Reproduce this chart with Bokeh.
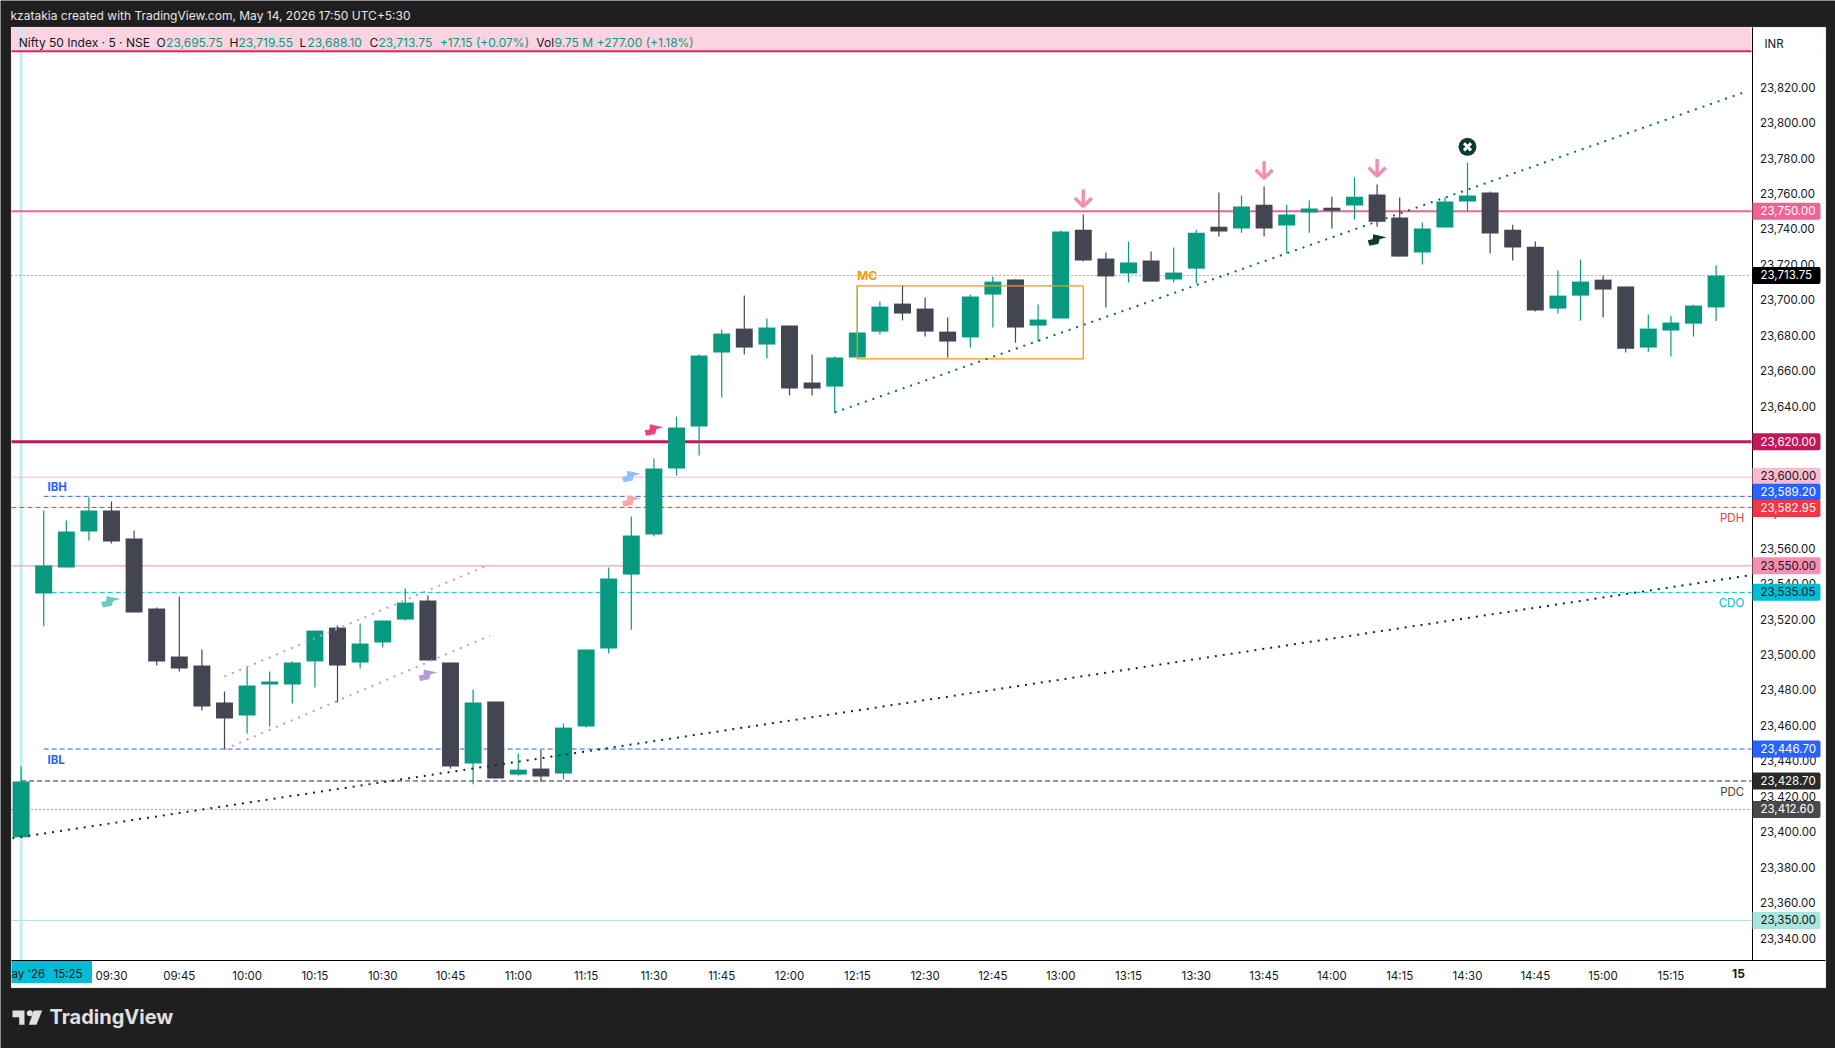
from bokeh.plotting import figure
from bokeh.models import (ColumnDataSource, BoxAnnotation, Label, FixedTicker, NumeralTickFormatter,
                          PolyAnnotation)
from bokeh.embed import file_html
from bokeh.resources import INLINE

# ---------- data ----------
open_ = [23397.0,23534.4,23549.1,23569.4,23581.2,23565.4,23525.9,23498.9,23493.8,23472.9,
         23465.6,23483.1,23483.1,23496.1,23515.2,23495.5,23506.8,23519.7,23530.4,23495.5,
         23438.5,23473.5,23432.3,23435.7,23432.9,23459.4,23503.4,23545.1,23567.7,23604.9,
         23628.6,23670.3,23683.8,23674.8,23685.5,23653.4,23651.1,23667.5,23682.1,23697.9,
         23695.1,23682.1,23678.8,23703.0,23711.5,23685.5,23689.5,23739.5,23723.3,23714.9,
         23722.2,23711.5,23717.6,23741.3,23740.2,23753.7,23741.9,23749.2,23752.0,23753.2,
         23759.4,23746.4,23726.7,23740.8,23755.4,23760.5,23739.6,23730.0,23695.1,23702.4,
         23711.4,23707.5,23673.1,23682.7,23686.6,23695.75]
high = [23436.8,23581.2,23575.6,23588.7,23586.3,23569.9,23526.5,23532.7,23502.8,23479.1,
        23493.2,23490.4,23496.1,23513.5,23516.4,23517.5,23519.2,23537.2,23533.3,23495.5,
        23480.3,23473.5,23444.2,23446.2,23461.1,23502.8,23549.1,23577.8,23610.5,23634.2,
        23669.2,23683.3,23702.4,23689.5,23685.5,23669.2,23668.0,23708.1,23699.1,23708.1,
        23701.3,23690.0,23703.0,23713.2,23711.5,23697.4,23739.1,23748.1,23726.7,23732.9,
        23727.3,23729.5,23739.6,23760.5,23758.8,23763.9,23753.7,23756.0,23758.2,23769.0,
        23765.0,23757.7,23743.6,23757.7,23777.4,23761.1,23742.4,23732.9,23716.5,23722.7,
        23713.7,23707.5,23691.7,23691.1,23697.3,23719.55]
low = [23396.4,23516.0,23549.1,23564.3,23562.6,23523.7,23493.8,23490.4,23468.4,23446.2,
       23455.4,23459.4,23472.4,23481.4,23472.9,23492.1,23503.9,23519.2,23496.6,23435.7,
       23426.9,23430.1,23431.8,23428.2,23429.5,23458.8,23500.6,23514.0,23566.5,23600.9,
       23612.2,23644.9,23669.2,23666.9,23646.1,23646.1,23636.5,23667.5,23680.5,23688.4,
       23679.3,23667.5,23673.1,23684.4,23675.9,23676.5,23689.5,23721.6,23695.7,23709.8,
       23710.3,23709.8,23709.2,23735.7,23737.9,23735.7,23726.1,23737.9,23740.2,23745.3,
       23741.3,23724.4,23719.9,23740.8,23750.3,23726.1,23722.2,23693.4,23692.3,23688.3,
       23690.0,23670.3,23670.8,23668.0,23679.3,23688.10]
close = [23428.4,23550.2,23569.4,23581.2,23563.7,23523.7,23496.1,23492.1,23470.7,23463.9,
         23482.5,23484.8,23495.5,23513.5,23493.8,23506.2,23519.2,23529.3,23496.6,23436.8,
         23472.9,23430.1,23435.1,23431.2,23458.8,23502.8,23542.9,23567.1,23604.9,23628.0,
         23668.6,23681.0,23673.1,23684.4,23650.0,23650.0,23667.5,23681.6,23696.2,23692.3,
         23682.1,23676.5,23701.9,23710.3,23684.4,23688.9,23738.5,23722.2,23713.2,23721.1,
         23710.3,23715.4,23737.9,23738.5,23752.6,23740.2,23748.1,23751.5,23750.3,23758.2,
         23744.1,23724.4,23740.2,23755.4,23758.8,23737.4,23729.5,23694.0,23702.4,23710.3,
         23705.8,23672.5,23683.8,23687.2,23696.8,23713.75]

time_labels = ["09:30","09:45","10:00","10:15","10:30","10:45","11:00","11:15","11:30","11:45",
               "12:00","12:15","12:30","12:45","13:00","13:15","13:30","13:45","14:00","14:15",
               "14:30","14:45","15:00","15:15"]
time_idx = list(range(4, 74, 3))
price_ticks = list(range(23340, 23821, 20))

# level lines: value, start bar, colour, width, dash
level_val = [23750.0, 23620.0, 23600.0, 23589.20, 23582.95, 23550.0, 23535.05, 23446.70, 23428.70, 23412.60, 23350.0, 23713.75]
level_start = [None, None, None, 1, None, None, 1, 1, 0, None, None, None]
level_color = ["#f06292","#c2185b","#f8bbd0","#2962ff","#f23645","#ea8fae","#00bcd4","#2962ff","#2a2a2a","#4a4a4a","#ace5dc","#555555"]
level_width = [2, 3, 1, 1, 1, 1, 1, 1, 1, 1, 1, 1]
level_dash = ["solid","solid","solid","5 3","5 3","solid","5 3","5 3","5 3","1 3","solid","1 3"]

# right-hand tags: value, text, bg, fg, pixel shift
tag_val = [23350.0,23412.60,23428.70,23446.70,23535.05,23550.0,23600.0,23589.20,23582.95,23620.0,23713.75,23750.0]
tag_txt = ["23,350.00","23,412.60","23,428.70","23,446.70","23,535.05","23,550.00","23,600.00","23,589.20","23,582.95","23,620.00","23,713.75","23,750.00"]
tag_bg = ["#ace5dc","#4a4a4a","#2a2a2a","#2962ff","#00bcd4","#f48fb1","#f8bbd0","#2962ff","#f23645","#c2185b","#000000","#f06292"]
tag_fg = ["#131722","#ffffff","#ffffff","#ffffff","#131722","#131722","#131722","#ffffff","#ffffff","#ffffff","#ffffff","#ffffff"]
tag_shift = [0,0,0,0,0,0,-1,-4,1,0,0,0]

# trend lines
trend_x = [[-0.38, 76.4], [36, 76.4], [9, 20.75], [9, 20.75]]
trend_y = [[23396.4, 23544.5], [23636.5, 23817.8], [23487.6, 23550.9], [23446.6, 23510.7]]
trend_color = ["#0d2f2a", "#0b6b5e", "#b39ddb", "#b39ddb"]

# orange box
mc_left, mc_right, mc_top, mc_bottom = 37, 47, 23707.9, 23666.7

# arrows (bar, tip price)
arrow_i = [47, 55, 60]
arrow_tip = [23752.7, 23768.6, 23769.8]

# flags (bar, price, colour)
flag_i = [3.96, 18.0, 28.0, 27.0, 27.0, 60.0]
flag_v = [23529.8, 23488.3, 23626.6, 23600.4, 23586.6, 23733.8]
flag_c = ["#69cdb9", "#b39ddb", "#f23f7a", "#90bfff", "#ffa6a6", "#0d3b33"]

# ---------- geometry ----------
DX = 22.6          # px per bar
DY = 1.7733        # px per price unit
W, H = 1835, 1048
ix = lambda px: (px - 20.6) / DX            # page x -> bar index
vy = lambda py: 23750 - (py - 210.7) / DY   # page y -> price
X0, X1 = ix(11), ix(1751)
GREEN, DARK = "#089981", "#434651"
BG = "#1f1f1f"
FONT = "Inter"

p = figure(width=W, height=H, x_range=(ix(0), ix(W)), y_range=(vy(H), vy(0)),
           y_axis_location="right", output_backend="svg", toolbar_location=None,
           min_border_left=0, min_border_right=0, min_border_top=0, min_border_bottom=0,
           border_fill_color=BG, background_fill_color=BG, outline_line_color=None)
p.grid.visible = False

def page_box(l, r, t, b, **kw):
    box = BoxAnnotation(left=ix(l), right=ix(r), top=vy(t), bottom=vy(b), **kw)
    p.add_layout(box)
    return box

def clabel(px, py, text, color="#131722", size="12px", align="left", style="normal"):
    p.add_layout(Label(x=px, y=py - 0.7, x_units="canvas", y_units="canvas", text=text, text_color=color,
                       text_font=FONT, text_font_size=size, text_align=align, text_baseline="middle",
                       text_font_style=style))

# white panel and grey frame
page_box(10.5, 1825.5, 26.5, 987.5, fill_color="white", fill_alpha=1, line_color="#6a6a6a", line_width=1, level="underlay")
# pink banner
page_box(11, 1751, 27, 50, fill_color="#fbd3e1", fill_alpha=1, line_alpha=0, level="underlay")

# session line
p.segment([0], [vy(27)], [0], [vy(960)], line_color="#bdeff5", line_width=3)
p.segment([X0], [vy(50.7)], [X1], [vy(50.7)], line_color="#e91e63", line_width=2)

# level lines
for v, st, c, w, d in zip(level_val, level_start, level_color, level_width, level_dash):
    p.segment([X0 if st is None else st], [v], [X1], [v], line_color=c, line_width=w, line_dash=d)

# candles
n = len(close)
src = ColumnDataSource(dict(x=list(range(n)), o=open_, h=high, l=low, c=close,
                            top=[max(a, b) for a, b in zip(open_, close)],
                            bot=[min(a, b) for a, b in zip(open_, close)],
                            col=[GREEN if b >= a else DARK for a, b in zip(open_, close)]))
p.segment("x", "h", "x", "l", source=src, line_color="col", line_width=1.2)
p.vbar("x", 0.75, "top", "bot", source=src, fill_color="col", line_color=None)

# MC box
p.quad(left=[mc_left], right=[mc_right], top=[mc_top], bottom=[mc_bottom], fill_alpha=0, line_color="#ff9800", line_width=1.3)

# trend lines
for xs, ys, c in zip(trend_x, trend_y, trend_color):
    p.line(xs, ys, line_color=c, line_width=2, line_dash="2 6")

# arrows
arrow_xs, arrow_ys = [], []
for i, tip in zip(arrow_i, arrow_tip):
    arrow_xs += [[i, i], [i - 8.5 / DX, i, i + 8.5 / DX]]
    arrow_ys += [[tip, tip + 17 / DY], [tip + 8.5 / DY, tip, tip + 8.5 / DY]]
p.multi_line(arrow_xs, arrow_ys, line_color="#f48fb1", line_width=3.5)

# flags
shape = [(-9.3, 0.3), (-4.5, -0.6), (-4, -5.8), (9.5, -2.8), (2.5, -0.8), (1.2, 4), (-7.8, 5.8)]
p.patches([[i + a / DX for a, _ in shape] for i in flag_i],
          [[v - b / DY for _, b in shape] for v in flag_v],
          fill_color=flag_c, line_color=None)

# exit marker
p.scatter([64], [23786.3], marker="circle", size=18, fill_color="#0d3b33", line_color=None)
p.scatter([64], [23786.3], marker="x", size=10, line_color="white", line_width=3)

# price axis
ax = p.yaxis[0]
ax.fixed_location = ix(1751.5)
ax.bounds = (vy(960), vy(27))
ax.ticker = FixedTicker(ticks=price_ticks)
ax.formatter = NumeralTickFormatter(format="0,0.00")
ax.major_tick_line_color = None
ax.minor_tick_line_color = None
ax.major_tick_out = 0
ax.axis_line_color = "#000000"
ax.major_label_standoff = 8
ax.major_label_text_font = FONT
ax.major_label_text_font_size = "11.5px"
ax.major_label_text_color = "#131722"

# time axis
tx = p.xaxis[0]
tx.fixed_location = vy(960)
tx.bounds = (ix(11), ix(1825))
tx.ticker = FixedTicker(ticks=time_idx)
tx.major_label_overrides = {i: t for i, t in zip(time_idx, time_labels)}
tx.major_tick_line_color = None
tx.minor_tick_line_color = None
tx.major_tick_out = 0
tx.axis_line_color = "#000000"
tx.major_label_standoff = 8
tx.major_label_text_font = FONT
tx.major_label_text_font_size = "11.5px"
tx.major_label_text_color = "#131722"

# crosshair date tag
page_box(11, 91.5, 960.5, 982.5, fill_color="#00bcd4", fill_alpha=1, line_alpha=0)
clabel(11, 974, "ay '26", size="11.5px")
clabel(53, 974, "15:25", size="11.5px")
clabel(1738, 974, "15", size="12px", align="center", style="bold")

# price tags
for v, t, bg, fg, s in zip(tag_val, tag_txt, tag_bg, tag_fg, tag_shift):
    yc = v - s / DY
    p.add_layout(BoxAnnotation(left=ix(1752), right=ix(1820), top=yc + 8.5 / DY, bottom=yc - 8.5 / DY,
                               fill_color=bg, fill_alpha=1, line_alpha=0,
                               border_radius=dict(top_left=0, top_right=2, bottom_right=2, bottom_left=0)))
    p.add_layout(Label(x=1760, y=yc + 0.7 / DY, x_units="canvas", y_units="data", text=t, text_color=fg,
                       text_font=FONT, text_font_size="11.5px", text_baseline="middle"))

# INR button
page_box(1755, 1820.5, 30.5, 56.5, fill_color="white", fill_alpha=1, line_color="#eeeeee", border_radius=4)
clabel(1764, 43.7, "INR", size="11.5px")

# texts over the chart
clabel(47, 486.7, "IBH", color="#2962ff", size="11.5px", style="bold")
clabel(47, 759.7, "IBL", color="#2962ff", size="11.5px", style="bold")
clabel(1743.7, 517.7, "PDH", color="#f23645", size="11.5px", align="right")
clabel(1743.7, 602.7, "CDO", color="#00bcd4", size="11.5px", align="right")
clabel(1743.7, 791.7, "PDC", color="#444444", size="11.5px", align="right")
clabel(856.5, 276, "MC", color="#ff9800", size="12px", style="bold")

# header
clabel(10, 15.7, "kzatakia created with TradingView.com, May 14, 2026 17:50 UTC+5:30", color="#e6e6e6", size="12px")
legend_x = [18.3, 156, 165.6, 228.9, 238, 299, 306.9, 369, 378, 439.4, 535.8, 554, 596.3]
legend_t = ["Nifty 50 Index · 5 · NSE", "O", "23,695.75", "H", "23,719.55", "L", "23,688.10", "C", "23,713.75",
            "+17.15 (+0.07%)", "Vol", "9.75 M", "+277.00 (+1.18%)"]
legend_c = ["#131722", "#131722", GREEN, "#131722", GREEN, "#131722", GREEN, "#131722", GREEN, GREEN, "#131722", GREEN, GREEN]
for x, t, c in zip(legend_x, legend_t, legend_c):
    clabel(x, 42.7, t, color=c, size="12px")

# TradingView logo
logo = [([12, 24, 24, 18.7, 18.7, 12], [1010, 1010, 1024.3, 1024.3, 1016.7, 1016.7]),
        ([33.3, 41.7, 36, 28.3], [1010, 1010, 1024.3, 1024.3])]
for xs, ys in logo:
    p.add_layout(PolyAnnotation(xs=[ix(a) for a in xs], ys=[vy(b) for b in ys],
                                fill_color="#e0e0e0", fill_alpha=1, line_alpha=0))
p.scatter([ix(29.3)], [vy(1012.7)], marker="circle", size=6, fill_color="#e0e0e0", line_color=None)
clabel(49, 1017, "TradingView", color="#e0e0e0", size="20px", style="bold")

open("out.html", "w").write(file_html(p, INLINE))
